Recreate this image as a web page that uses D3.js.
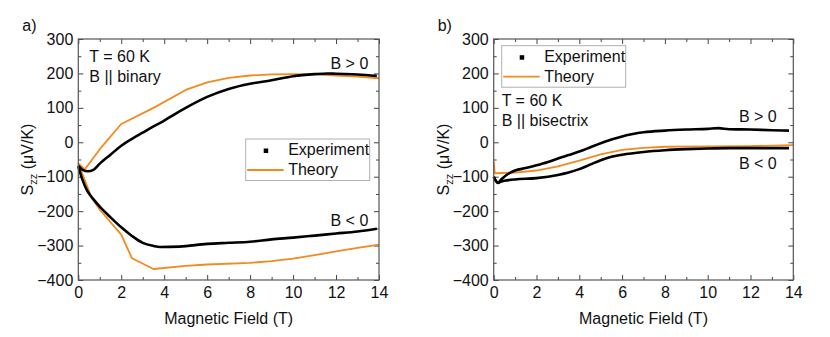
<!DOCTYPE html>
<html>
<head>
<meta charset="utf-8">
<script src="https://cdn.jsdelivr.net/npm/d3@7"></script>
<style>
  body { margin: 0; background: #fff; }
  svg { display: block; font-family: Arial, "Liberation Sans", sans-serif; }
</style>
</head>
<body>
<script>
// panel a) B || binary
var fieldA_expPos = [0, 0.2, 0.45, 0.7, 1, 1.5, 2, 2.5, 3, 3.5, 4, 4.5, 5, 6, 7, 8, 9, 10, 11, 11.6, 12, 13, 13.9];
var sA_expPos     = [-68, -80, -84, -80, -62, -36, -10, 10, 28, 46, 63, 82, 100, 132, 155, 170, 180, 192, 198, 200, 199, 197, 193];
var fieldA_expNeg = [0, 0.2, 0.4, 0.7, 1, 1.5, 2, 2.5, 3, 3.5, 3.8, 4.7, 6, 7, 8, 9, 10, 11, 12, 13, 13.9];
var sA_expNeg     = [-70, -110, -139, -165, -187, -218, -247, -272, -292, -301, -304, -303, -295, -292, -289, -282, -277, -271, -265, -259, -251];
var fieldA_thPos  = [0, 0.3, 1, 2, 3.5, 5, 6, 7, 8, 9, 10, 11, 12, 13, 14];
var sA_thPos      = [-61, -79, -20, 53, 100, 152, 174, 187, 194, 197, 198, 197, 194, 191, 186];
var fieldA_thNeg  = [0, 0.6, 1, 2, 2.5, 3.5, 5, 6, 8, 9, 10, 11, 12, 13, 14];
var sA_thNeg      = [-61, -158, -196, -268, -337, -368, -359, -355, -350, -345, -338, -328, -317, -307, -297];

// panel b) B || bisectrix
var fieldB_expPos = [0, 0.1, 0.2, 0.35, 0.6, 1, 1.5, 2, 2.5, 3, 3.5, 4, 4.5, 5, 5.5, 6, 6.5, 7, 8, 9, 10, 10.5, 11, 12, 13, 13.8];
var sB_expPos     = [-100, -112, -118, -108, -95, -82, -75, -67, -58, -47, -37, -27, -15, -3, 8, 17, 24, 29, 34, 37, 39, 41, 38, 37, 35, 34];
var fieldB_expNeg = [0, 0.1, 0.2, 0.4, 0.7, 1, 2, 3, 3.5, 4, 4.5, 5, 5.5, 6, 7, 8, 9, 10, 11, 12, 13, 13.8];
var sB_expNeg     = [-100, -112, -118, -113, -110, -108, -104, -95, -88, -78, -65, -52, -42, -36, -28, -23, -20, -18, -17, -17, -17, -17];
var fieldB_th     = [0, 0.05, 1, 2, 3, 4, 5, 6, 7, 8, 10, 12, 14];
var sB_th         = [-56, -90, -88, -82, -70, -53, -35, -22, -16, -13, -12, -11, -8];

var xMajor = [0, 2, 4, 6, 8, 10, 12, 14];
var xMinor = [1, 3, 5, 7, 9, 11, 13];
var yMajor = [-400, -300, -200, -100, 0, 100, 200, 300];
var yMinor = [-350, -250, -150, -50, 50, 150, 250];

var orange = '#f28a1e';

var svg = d3.select('body').append('svg')
  .attr('width', 830)
  .attr('height', 337);

var zip = function(xs, ys) {
  return xs.map(function(x, i) { return [x, ys[i]]; });
};

var drawPanel = function(p) {
  var x = d3.scaleLinear().domain([0, 14]).range([p.left, p.right]);
  var y = d3.scaleLinear().domain([-400, 300]).range([280, 39]);
  var g = svg.append('g');

  // ticks on all four sides, pointing inward
  var addAxis = function(axisFn, scale, values, size, labels, translate) {
    var ax = axisFn(scale).tickValues(values).tickSize(size).tickPadding(labels ? (axisFn === d3.axisBottom ? 7 : 5) : 0);
    if(!labels) { ax.tickFormat(''); }
    var a = g.append('g').attr('transform', translate).call(ax);
    a.select('.domain').remove();
    a.selectAll('line').attr('stroke', '#444').attr('stroke-width', 1);
    a.selectAll('text').attr('fill', '#111').style('font-size', '16px').style('font-family', 'Arial, "Liberation Sans", sans-serif');
  };
  addAxis(d3.axisBottom, x, xMajor, -5, true, 'translate(0,280)');
  addAxis(d3.axisBottom, x, xMinor, -3, false, 'translate(0,280)');
  addAxis(d3.axisTop, x, xMajor, -5, false, 'translate(0,39)');
  addAxis(d3.axisTop, x, xMinor, -3, false, 'translate(0,39)');
  addAxis(d3.axisLeft, y, yMajor, -5, true, 'translate(' + p.left + ',0)');
  addAxis(d3.axisLeft, y, yMinor, -3, false, 'translate(' + p.left + ',0)');
  addAxis(d3.axisRight, y, yMajor, -5, false, 'translate(' + p.right + ',0)');
  addAxis(d3.axisRight, y, yMinor, -3, false, 'translate(' + p.right + ',0)');

  var line = d3.line()
    .x(function(d) { return x(d[0]); })
    .y(function(d) { return y(d[1]); });
  var smooth = d3.line()
    .x(function(d) { return x(d[0]); })
    .y(function(d) { return y(d[1]); })
    .curve(d3.curveMonotoneX);

  p.theory.forEach(function(s) {
    g.append('path').attr('d', line(s)).attr('fill', 'none')
      .attr('stroke', orange).attr('stroke-width', 1.8).attr('stroke-linejoin', 'round');
  });
  p.exp.forEach(function(s) {
    g.append('path').attr('d', smooth(s)).attr('fill', 'none')
      .attr('stroke', '#000').attr('stroke-width', 2.6).attr('stroke-linejoin', 'round');
  });

  // frame
  g.append('rect')
    .attr('x', p.left).attr('y', 39)
    .attr('width', p.right - p.left).attr('height', 241)
    .attr('fill', 'none').attr('stroke', '#555').attr('stroke-width', 1.2);

  var txt = function(tx, ty, s, anchor) {
    return g.append('text').attr('x', tx).attr('y', ty)
      .attr('text-anchor', anchor || 'start')
      .style('font-size', '16px').attr('fill', '#111').text(s);
  };

  txt(p.left - 56, 31, p.tag);
  txt((p.left + p.right) / 2, 323.5, 'Magnetic Field (T)', 'middle');

  var yt = g.append('text')
    .attr('transform', 'translate(' + (p.left - 45) + ',159.5) rotate(-90)')
    .attr('text-anchor', 'middle')
    .style('font-size', '16px').attr('fill', '#111');
  yt.append('tspan').text('S');
  yt.append('tspan').attr('dy', 4).style('font-size', '11px').text('zz');
  yt.append('tspan').attr('dy', -4).text(' (\u03bcV/K)');

  p.notes.forEach(function(n) { txt(n[0], n[1], n[2], n[3]); });

  // legend
  var L = p.legend;
  g.append('rect').attr('x', L.x).attr('y', L.y).attr('width', 124).attr('height', 41.5)
    .attr('fill', '#fff').attr('stroke', '#b0b0b0').attr('stroke-width', 1);
  g.append('rect').attr('x', L.x + 18).attr('y', L.y + 9.5).attr('width', 4.5).attr('height', 4.5).attr('fill', '#000');
  txt(L.x + 42.5, L.y + 16, 'Experiment');
  g.append('line').attr('x1', L.x + 1.5).attr('x2', L.x + 38).attr('y1', L.y + 31).attr('y2', L.y + 31)
    .attr('stroke', orange).attr('stroke-width', 1.8);
  txt(L.x + 42.5, L.y + 36, 'Theory');
};

drawPanel({
  left: 78.3, right: 379, tag: 'a)',
  exp: [zip(fieldA_expPos, sA_expPos), zip(fieldA_expNeg, sA_expNeg)],
  theory: [zip(fieldA_thPos, sA_thPos), zip(fieldA_thNeg, sA_thNeg)],
  notes: [[89.3, 62, 'T = 60 K'], [89.3, 82, 'B || binary'], [368.3, 69, 'B > 0', 'end'], [368.3, 225.5, 'B < 0', 'end']],
  legend: {x: 245.7, y: 139}
});

drawPanel({
  left: 493.7, right: 793.3, tag: 'b)',
  exp: [zip(fieldB_expPos, sB_expPos), zip(fieldB_expNeg, sB_expNeg)],
  theory: [zip(fieldB_th, sB_th)],
  notes: [[501.7, 106, 'T = 60 K'], [501.7, 126, 'B || bisectrix'], [776.7, 122.3, 'B > 0', 'end'], [776.7, 169, 'B < 0', 'end']],
  legend: {x: 501.7, y: 45.7}
});
</script>
</body>
</html>
